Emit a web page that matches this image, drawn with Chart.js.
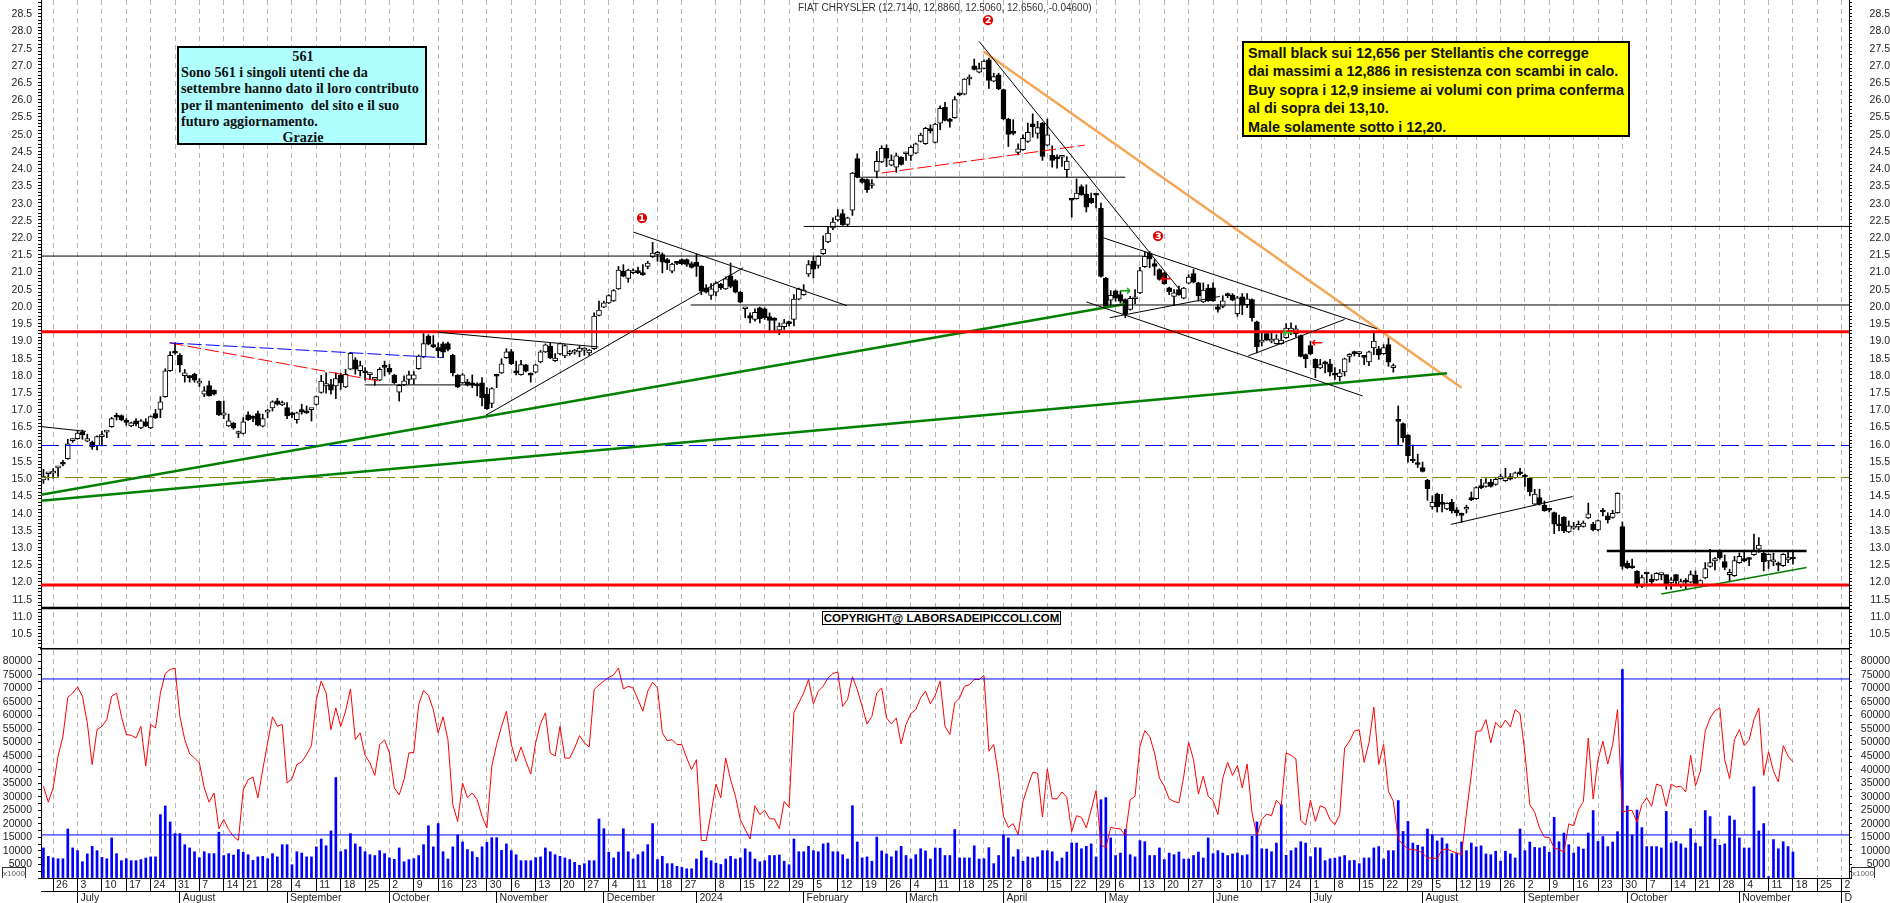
<!DOCTYPE html>
<html>
<head>
<meta charset="utf-8">
<title>FIAT CHRYSLER</title>
<script src="https://cdn.jsdelivr.net/npm/chart.js@4/dist/chart.umd.js"></script>
<style>
  html, body { margin: 0; padding: 0; background: #fff; width: 1890px; height: 903px; overflow: hidden; }
  canvas { position: absolute; left: 0; }
  #priceChart { top: 0; }
  #volumeChart { top: 650px; }
  .note { position: absolute; white-space: pre; }
  #title { left: 798px; top: 2px; font: 10px "Liberation Sans"; color: #333; }
  #infoBox { left: 177px; top: 46px; width: 244px; height: 95px; padding: 0 0 0 2px; border: 2px solid #000; background: #b0ffff; font: bold 14.2px/16.2px "Liberation Serif"; color: #111; }
  #infoBox div { text-align: center; }
  #commentBox { left: 1242px; top: 41px; width: 378px; height: 91px; padding: 1px 2px 0 4px; border: 2px solid #000; background: #ffff00; font: bold 14.4px/18.4px "Liberation Sans"; color: #111; }
  #copyBox { left: 822px; top: 611px; width: 237px; height: 12px; border: 1.5px solid #000; background: #fff; font: bold 11.5px/12px "Liberation Sans"; color: #000; text-align: center; }
  .unit { font: 8px/11px "Liberation Sans"; color: #666; border: 1px solid #333; border-bottom: 0; width: 22px; height: 10px; text-align: center; }
  .mark { font: bold 14px/14px "DejaVu Sans"; transform: translate(-50%, -50%); }
</style>
</head>
<body>
<canvas id="priceChart" width="1890" height="650"></canvas>
<canvas id="volumeChart" width="1890" height="253"></canvas>

<div class="note" id="title">FIAT CHRYSLER (12.7140, 12.8860, 12.5060, 12.6560, -0.04600)</div>
<div class="note" id="infoBox"><div>561</div>Sono 561 i singoli utenti che da
settembre hanno dato il loro contributo
per il mantenimento  del sito e il suo
futuro aggiornamento.
<div>Grazie</div></div>
<div class="note" id="commentBox">Small black sui 12,656 per Stellantis che corregge
dai massimi a 12,886 in resistenza con scambi in calo.
Buy sopra i 12,9 insieme ai volumi con prima conferma
al di sopra dei 13,10.
Male solamente sotto i 12,20.</div>
<div class="note" id="copyBox">COPYRIGHT@ LABORSADEIPICCOLI.COM</div>
<div class="note unit" style="left:2px;top:867px">x1000</div>
<div class="note unit" style="left:1851px;top:867px">x1000</div>
<div class="note mark" style="left:642px;top:218px;color:#e00000">❶</div>
<div class="note mark" style="left:988px;top:20px;color:#e00000">❷</div>
<div class="note mark" style="left:1158px;top:236px;color:#e00000">❸</div>
<div class="note mark" style="left:1125px;top:290px;color:#10a010">→</div>
<div class="note mark" style="left:1166px;top:278px;color:#ff0000">←</div>
<div class="note mark" style="left:1288px;top:332px;color:#30c030">←</div>
<div class="note mark" style="left:1317px;top:342px;color:#ff0000">←</div>

<script>
// one candle per trading day
const openValues = [
  14.95,15.13,15.15,15.30,15.47,15.57,16.09,16.15,16.35,16.08,
  16.04,15.94,16.21,16.34,16.50,16.83,16.82,16.65,16.52,16.67,
  16.46,16.64,16.46,16.88,17.00,17.37,18.12,18.69,18.57,17.98,
  17.96,18.02,17.76,17.44,17.69,17.55,17.23,16.83,16.52,16.60,
  16.30,16.30,16.84,16.77,16.88,16.51,16.92,17.04,17.25,17.13,
  17.05,16.90,16.70,16.99,16.94,16.99,17.14,17.49,17.68,17.72,
  17.68,17.99,17.65,18.17,18.44,18.12,18.09,18.01,17.87,17.85,
  18.24,18.20,17.99,17.50,17.71,17.87,17.88,18.18,18.53,19.13,
  18.85,18.79,18.90,18.91,18.57,17.99,17.77,17.80,17.77,17.71,
  17.77,17.44,17.17,17.98,18.06,18.50,18.68,18.08,18.01,18.29,
  18.02,18.08,18.38,18.67,18.84,18.41,18.61,18.55,18.62,18.66,
  18.68,18.72,18.64,18.76,19.73,19.97,20.09,20.15,20.50,21.01,
  20.80,20.97,20.98,20.94,21.15,21.43,21.50,21.49,21.35,21.01,
  21.25,21.35,21.35,21.23,21.27,21.15,20.53,20.31,20.40,20.64,
  20.50,20.88,20.74,20.40,19.92,19.72,19.61,19.95,19.92,19.69,
  19.64,19.30,19.40,19.50,19.61,20.20,20.33,20.93,21.30,21.18,
  21.52,21.86,22.27,22.50,22.68,22.37,22.78,24.28,23.69,23.67,
  23.50,23.91,24.18,24.58,24.09,24.03,24.32,24.42,24.37,24.44,
  24.78,24.71,25.10,24.75,25.31,25.77,25.43,25.47,26.15,26.15,
  26.59,26.97,26.79,26.90,27.15,26.53,26.71,26.28,25.43,25.02,
  24.46,24.54,24.78,25.29,25.01,25.31,24.67,24.38,24.32,24.32,
  23.96,23.09,23.12,23.47,23.25,23.13,23.24,22.84,20.81,20.17,
  20.44,20.33,20.19,19.90,20.21,20.38,21.14,21.54,21.23,21.06,
  20.96,20.53,20.28,20.48,20.23,20.66,20.94,20.67,20.12,20.52,
  20.53,19.98,19.99,20.31,20.32,19.78,20.27,20.04,20.19,19.54,
  18.95,19.20,18.98,18.91,18.91,19.08,19.27,19.20,19.14,18.59,
  18.85,18.45,18.20,18.38,18.32,18.00,17.95,18.09,18.54,18.63,
  18.62,18.52,18.38,18.78,18.76,18.62,18.88,18.21,16.66,16.59,
  16.25,15.53,15.42,15.31,14.94,14.17,14.54,14.25,14.11,14.30,
  14.08,13.93,14.10,14.44,14.41,14.79,14.76,14.89,14.82,14.99,
  14.93,15.05,15.02,15.16,15.05,15.00,14.25,14.44,14.22,14.10,
  14.00,13.66,13.87,13.44,13.55,13.59,13.60,13.85,13.66,13.50,
  14.03,13.91,13.86,14.00,13.60,12.53,12.46,12.30,11.86,12.23,
  12.07,12.05,12.20,12.20,11.96,12.20,11.88,12.04,11.98,12.19,
  11.90,12.11,12.44,12.60,12.89,12.58,12.20,12.17,12.55,12.67,
  12.67,12.78,12.94,12.82,12.60,12.57,12.50,12.46,12.63,12.714
];
const highValues = [
  15.26,15.15,15.28,15.33,15.52,16.13,16.15,16.40,16.40,16.28,
  16.08,16.23,16.37,16.38,16.77,16.89,16.84,16.73,16.63,16.73,
  16.70,16.73,16.81,17.00,17.37,18.18,18.68,18.93,18.62,18.16,
  17.98,18.05,17.89,17.66,17.82,17.57,17.25,17.24,16.86,16.62,
  16.37,16.76,16.93,16.81,16.95,16.86,17.00,17.25,17.32,17.24,
  17.20,16.92,16.92,17.15,17.10,17.02,17.39,17.99,18.06,17.87,
  18.06,18.05,18.16,18.65,18.50,18.40,18.21,18.06,17.93,18.21,
  18.40,18.30,18.02,17.72,17.97,18.11,18.10,18.58,19.20,19.17,
  19.14,18.93,18.95,18.95,18.60,18.01,18.04,17.87,18.00,17.77,
  17.92,17.63,17.63,18.02,18.47,18.76,18.74,18.40,18.42,18.31,
  18.06,18.31,18.71,18.90,18.93,18.62,18.93,18.88,18.72,18.74,
  18.84,18.79,18.74,19.80,20.14,20.14,20.33,20.48,21.15,21.20,
  21.07,21.08,21.13,21.20,21.30,21.85,21.59,21.54,21.38,21.25,
  21.27,21.37,21.37,21.28,21.51,21.17,20.62,20.65,20.70,20.66,
  20.85,21.25,20.77,20.42,19.94,19.80,19.92,19.97,19.95,19.80,
  19.66,19.51,19.61,19.56,20.33,20.52,20.62,21.32,21.44,21.46,
  22.04,22.31,22.56,22.80,22.80,22.58,23.88,24.42,23.71,23.69,
  23.67,24.49,24.65,24.68,24.39,24.44,24.34,24.46,24.65,24.73,
  25.02,25.19,25.26,25.31,25.81,25.91,25.45,26.08,26.17,26.60,
  26.71,27.17,27.05,27.15,27.20,26.76,26.76,26.30,25.45,25.41,
  24.71,24.97,25.31,25.58,25.36,25.33,25.43,24.65,24.39,24.34,
  24.34,23.13,23.69,23.52,23.52,23.28,23.26,22.99,20.83,20.45,
  20.46,20.43,20.21,20.28,20.48,21.12,21.56,21.58,21.35,21.08,
  20.98,20.55,20.48,20.58,20.54,20.91,21.06,20.69,20.67,20.62,
  20.67,20.04,20.30,20.38,20.36,20.28,20.36,20.36,20.21,19.56,
  19.27,19.22,19.22,19.17,19.22,19.49,19.51,19.43,19.16,18.61,
  18.98,18.47,18.45,18.40,18.45,18.21,18.16,18.49,18.62,18.69,
  18.67,18.55,18.69,19.27,18.83,18.88,19.08,18.32,17.10,16.61,
  16.27,15.96,15.70,15.47,14.97,14.49,14.57,14.53,14.29,14.39,
  14.15,13.99,14.22,14.60,14.75,14.97,14.99,14.97,15.02,15.12,
  15.29,15.14,15.18,15.29,15.12,15.02,14.68,14.68,14.34,14.12,
  14.02,13.93,13.89,13.76,13.72,13.76,13.76,14.28,13.72,13.79,
  14.13,14.00,14.07,14.58,13.73,12.60,12.65,12.32,12.19,12.25,
  12.20,12.26,12.21,12.20,12.12,12.20,12.07,12.09,12.31,12.31,
  12.05,12.55,12.94,12.70,12.92,12.77,12.36,12.73,12.83,12.85,
  12.70,13.38,13.28,12.85,12.81,12.83,12.57,12.81,12.86,12.886
];
const lowValues = [
  14.85,14.95,15.00,15.05,15.36,15.55,16.04,16.13,16.13,16.06,
  15.84,15.82,15.94,16.18,16.48,16.69,16.67,16.54,16.50,16.52,
  16.44,16.50,16.44,16.73,16.76,17.35,18.10,18.60,18.08,17.79,
  17.79,17.79,17.66,17.37,17.38,17.42,16.82,16.73,16.50,16.42,
  16.18,16.28,16.68,16.64,16.52,16.49,16.76,16.95,17.12,17.11,
  16.73,16.76,16.60,16.86,16.88,16.66,17.12,17.47,17.47,17.44,
  17.31,17.58,17.63,18.15,18.02,17.97,17.85,17.87,17.70,17.83,
  17.97,18.02,17.75,17.24,17.69,17.73,17.73,18.16,18.50,18.87,
  18.79,18.50,18.50,18.70,17.97,17.63,17.75,17.68,17.63,17.39,
  17.10,17.00,17.05,17.63,18.04,18.48,18.30,18.00,17.99,18.09,
  17.79,18.06,18.35,18.65,18.47,18.39,18.59,18.50,18.57,18.60,
  18.53,18.57,18.57,18.74,19.71,19.95,20.07,20.13,20.48,20.85,
  20.69,20.94,20.94,20.89,21.08,21.41,21.30,20.96,21.06,20.96,
  21.20,21.20,21.15,21.10,20.86,20.33,20.38,20.19,20.29,20.48,
  20.48,20.53,20.38,20.09,19.66,19.51,19.56,19.51,19.61,19.27,
  19.27,19.17,19.32,19.42,19.42,20.18,20.31,20.86,20.81,21.10,
  21.50,21.84,22.22,22.46,22.34,22.30,22.63,23.72,23.57,23.30,
  23.42,23.72,24.16,24.05,24.07,23.88,24.09,24.23,24.23,24.42,
  24.76,24.69,25.02,24.73,25.12,25.37,25.19,25.45,26.10,26.13,
  26.42,26.85,26.77,26.88,26.32,26.51,26.28,25.41,24.63,24.97,
  24.39,24.52,24.75,24.90,24.87,24.23,24.65,24.03,24.00,24.05,
  23.74,22.58,23.10,23.21,22.73,22.98,22.85,20.84,19.97,20.01,
  20.14,20.09,19.66,19.88,20.07,20.36,21.12,21.11,20.89,20.75,
  20.63,20.33,20.01,20.31,20.21,20.64,20.67,20.14,20.10,20.13,
  20.13,19.82,19.95,20.24,20.15,19.70,19.75,19.95,19.56,18.64,
  18.84,19.00,18.93,18.89,18.89,19.06,19.17,19.10,18.52,18.21,
  18.59,17.92,18.18,18.06,17.97,17.87,17.82,17.97,18.37,18.55,
  18.53,18.30,18.27,18.59,18.45,18.60,18.25,18.08,15.96,16.05,
  15.47,15.45,15.31,15.18,14.36,14.10,14.02,14.02,14.09,13.99,
  13.91,13.72,13.99,14.35,14.39,14.70,14.74,14.74,14.80,14.97,
  14.91,14.95,15.00,15.10,14.76,14.49,14.23,14.22,14.04,14.02,
  13.39,13.47,13.42,13.42,13.52,13.50,13.58,13.83,13.47,13.47,
  13.91,13.70,13.84,13.98,12.36,12.38,12.38,11.83,11.83,11.95,
  11.93,12.03,12.05,11.78,11.78,11.90,11.83,11.78,11.96,11.88,
  11.88,12.09,12.42,12.34,12.65,12.34,11.99,12.15,12.53,12.58,
  12.46,12.76,12.85,12.31,12.38,12.46,12.31,12.44,12.55,12.506
];
const closeValues = [
  15.05,15.15,15.18,15.33,15.41,16.00,16.10,16.31,16.26,16.15,
  15.91,16.21,16.27,16.36,16.73,16.77,16.70,16.62,16.61,16.58,
  16.67,16.51,16.79,16.75,17.22,18.12,18.57,18.63,18.29,18.06,
  17.92,17.85,17.80,17.54,17.39,17.44,16.84,16.90,16.67,16.46,
  16.35,16.64,16.70,16.74,16.54,16.73,16.93,17.22,17.15,17.20,
  16.81,16.84,16.90,16.92,16.90,17.00,17.37,17.82,17.75,17.56,
  17.89,17.77,18.02,18.63,18.17,18.27,18.06,18.02,17.88,18.16,
  18.22,18.08,17.77,17.70,17.83,18.00,18.00,18.55,18.91,18.89,
  18.82,18.70,18.66,18.74,18.06,17.65,18.00,17.71,17.70,17.68,
  17.34,17.02,17.60,17.96,18.32,18.67,18.32,18.06,18.30,18.11,
  17.99,18.29,18.67,18.87,18.49,18.49,18.91,18.85,18.63,18.67,
  18.78,18.74,18.72,19.71,19.88,20.09,20.30,20.45,21.04,20.87,
  21.04,20.98,20.97,20.91,21.25,21.54,21.51,21.27,21.25,21.22,
  21.24,21.22,21.21,21.12,21.15,20.43,20.40,20.50,20.67,20.53,
  20.79,20.57,20.40,20.11,19.93,19.65,19.82,19.63,19.66,19.58,
  19.58,19.42,19.51,19.49,20.20,20.50,20.47,21.20,21.07,21.44,
  21.65,22.12,22.44,22.62,22.36,22.56,23.86,23.74,23.59,23.38,
  23.51,24.20,24.58,24.29,24.24,24.36,24.11,24.43,24.61,24.71,
  24.96,25.16,25.09,25.28,25.74,25.39,25.36,25.99,26.13,26.59,
  26.63,26.87,26.89,27.11,26.55,26.66,26.30,25.43,24.98,25.01,
  24.56,24.87,25.04,25.21,25.18,24.34,24.97,24.23,24.27,24.33,
  24.21,23.07,23.28,23.23,22.87,23.00,23.22,20.86,19.99,20.31,
  20.23,20.14,19.78,20.22,20.27,21.03,21.44,21.37,21.15,20.77,
  20.65,20.42,20.38,20.33,20.52,20.84,20.69,20.30,20.46,20.15,
  20.15,19.90,20.15,20.30,20.17,20.24,20.03,20.21,19.66,18.82,
  18.96,19.01,18.98,19.05,19.01,19.36,19.36,19.34,18.54,18.47,
  18.61,18.20,18.30,18.32,18.08,17.99,18.06,18.47,18.55,18.62,
  18.63,18.51,18.67,18.98,18.58,18.79,18.37,18.27,16.65,16.18,
  15.65,15.50,15.40,15.20,14.70,14.30,14.17,14.24,14.27,14.05,
  13.99,13.92,14.11,14.37,14.73,14.72,14.87,14.76,14.97,15.00,
  15.02,14.97,15.16,15.13,15.03,14.60,14.54,14.25,14.06,14.07,
  13.67,13.62,13.47,13.62,13.60,13.66,13.70,13.97,13.50,13.77,
  14.02,13.79,13.98,14.56,12.44,12.40,12.40,11.93,12.12,12.22,
  11.99,12.24,12.20,11.90,12.05,12.02,12.00,11.98,12.20,11.90,
  12.03,12.38,12.55,12.67,12.69,12.41,12.27,12.61,12.73,12.60,
  12.64,12.90,13.06,12.58,12.79,12.58,12.48,12.79,12.70,12.656
];
const volumeValues = [
  11100,8000,7400,7100,7100,18100,11100,10100,6000,8900,
  11700,10100,7600,7100,14800,9000,6400,7100,6400,6400,
  6800,7400,7800,7800,23400,26600,20700,16400,16400,12300,
  11100,9700,7500,9700,9000,9000,16900,8300,9000,8500,
  10500,9500,8600,6500,7800,8000,7100,9000,7800,12300,
  12300,4900,9700,9200,7800,7800,11500,14400,11900,17400,
  37100,9700,10500,16400,12600,11500,9700,8600,8300,10100,
  9000,7400,6900,11100,6000,6800,7100,8300,12300,19300,
  11500,20100,9700,7000,11500,15900,13300,10500,9700,7600,
  11500,13200,14900,14900,10200,12600,10100,8600,6400,6400,
  6400,7500,7800,11100,9700,8600,8000,7400,6800,5800,
  4700,5300,6400,6400,21800,18200,9500,7400,9600,18200,
  9700,7000,8600,9700,12300,20100,6800,8000,5300,5300,
  4300,3900,3400,3400,7000,10000,7400,6400,5500,5000,
  7000,8000,7000,7400,10800,9600,7000,6000,6400,8300,
  8300,8500,6200,4900,14400,9700,9700,11700,10100,9700,
  12600,12900,9700,9700,8600,7000,26700,13300,7400,7800,
  6200,15100,10000,8900,7800,10000,11700,8300,7000,8600,
  10800,10000,7000,11100,11000,8300,8300,17900,7400,7400,
  7400,11900,7000,7100,11200,5300,8300,15900,14800,7800,
  10500,6200,7800,7400,7800,10100,10100,9700,6200,7400,
  9600,12900,12900,10800,11700,12600,7800,28900,29700,14800,
  8300,9200,17900,8600,7800,13800,13400,8300,8300,11100,
  6800,9200,8600,9600,7000,7000,8300,9600,7400,14800,
  9000,10100,9200,8300,8900,9200,8300,8600,15400,20700,
  10800,10700,9700,12900,27100,8400,10100,11100,13400,12900,
  7900,11200,11100,6400,7100,7300,7800,8300,6400,6500,
  5300,7400,7400,11100,11600,7000,10100,10100,28600,17200,
  20900,12900,12100,11500,18100,15900,13700,14800,12600,9000,
  9200,13300,10100,12900,11500,11900,8900,8600,9900,6200,
  9900,8900,7400,18100,10100,13300,11300,11100,11600,9500,
  22400,13400,16600,12300,9200,11500,10700,16600,24900,13500,
  15300,11600,13300,17100,77000,26600,15900,25100,18600,11600,
  11600,11600,11100,24600,12900,13500,12600,11100,18200,12900,
  11600,24900,22700,14400,12100,12600,22900,21400,14800,11100,
  11100,33700,17400,20100,500,14200,10800,13400,11600,9600
];
// red line drawn over the volume bars
const volumeLineValues = [
  33900,28000,33300,45000,52300,66700,68300,70600,67100,57300,
  41900,54800,56000,58500,67100,68300,59700,53000,52700,51700,
  56000,41300,56700,55400,68300,75500,77000,77500,59700,51100,
  45900,44300,42500,33300,28000,31400,18200,21600,17900,15400,
  13900,32600,36300,37300,29600,40000,49900,59500,56000,56700,
  35100,36600,41900,42900,45600,48900,65900,72700,68300,54800,
  62800,56000,61600,69800,51100,53600,45300,42500,37900,49300,
  51000,46200,33300,30700,36300,46200,46400,64000,69300,67500,
  62200,53600,59500,51100,27100,20900,35100,29600,31400,28900,
  22800,18500,41300,49300,56000,61600,49300,43100,48400,43100,
  38400,49900,57000,61000,46200,45000,56000,44300,44300,48000,
  52600,49900,48400,69600,71300,72700,74100,75000,77600,69800,
  70800,70200,65900,61600,69000,72300,70200,53600,50700,51100,
  49300,49300,44300,40000,43700,13900,13800,24000,34700,29600,
  44300,36300,30200,21600,17900,14400,26700,23400,25000,21900,
  21800,18200,28300,26100,61200,64700,68300,73300,64300,69000,
  70800,73900,75500,76100,63400,65900,74300,69600,63400,56900,
  59700,68300,70200,59100,56900,59100,49500,56700,60700,62200,
  66500,69000,64300,67500,72700,56000,53000,64700,66500,70800,
  71400,73300,73300,74800,46800,49300,37600,22800,18700,20100,
  16000,28300,33900,39000,38700,22500,40300,29300,29200,31800,
  29800,17200,23000,22400,18500,25200,32300,12300,11100,18700,
  18300,18100,15600,28900,30200,48600,54400,52300,46200,36900,
  33900,29200,28300,27700,37600,50100,43700,31000,37600,30200,
  28600,23400,36900,42700,37900,41500,33300,42100,24000,15600,
  21600,23600,23000,28700,26700,46200,45300,44000,21300,19500,
  28700,20900,26700,25900,21600,19700,23400,48000,50500,54200,
  54800,42700,49900,63100,41900,49300,32000,28300,14400,12300,
  10700,10500,10200,9200,7400,7400,7100,10500,10700,9900,
  9200,8600,24000,38200,54200,54300,58500,49900,57500,55400,
  58300,55800,62200,60700,46200,27100,24300,18500,15100,15000,
  11100,10500,9500,20000,19300,25200,28300,51700,29200,43700,
  50500,42100,49300,62200,24300,24900,24900,20600,27100,29600,
  26500,34700,33900,26500,34700,33600,33900,31800,45300,34100,
  39400,54200,59100,61800,62800,43700,36700,51100,54800,48900,
  50900,58500,62800,37900,46600,39400,35500,48900,45000,42900
];

// week ticks: position in the trading day sequence, then the day printed there
const weekTickIndex = [
  2,7,12,17,22,27,32,37,41,46,51,56,61,66,71,76,81,86,91,96,101,106,111,116,121,126,131,138,143,148,153,
  158,163,168,173,178,183,188,193,197,201,206,211,216,220,225,230,235,240,245,250,255,260,265,270,275,
  280,285,290,294,299,304,309,314,319,324,329,334,339,344,349,354,359,364,369
];
const weekTickLabels = [
  '26','3','10','17','24','31','7','14','21','28','4','11','18','25','2','9','16','23','30','6','13','20','27','4','11','18','27','8','15','22','29',
  '5','12','19','26','4','11','18','25','2','8','15','22','29','6','13','20','27','3','10','17','24','1','8','15','22',
  '29','5','12','19','26','2','9','16','23','30','7','14','21','28','4','11','18','25','2'
];
const monthTickIndex = [7,28,50,71,93,115,134,156,177,197,218,240,260,283,304,325,348,369];
const monthTickLabels = ['July','August','September','October','November','December','2024','February','March','April','May','June','July','August','September','October','November','D'];

// lines drawn on the price panel, each one: first day, first value, last day, last value
const blackThinLines = [
  [-0.5,16.50,8.7,16.36],
  [-0.5,21.45,225.7,21.45],
  [132.8,20.03,370.5,20.03],
  [156,22.31,370.5,22.31],
  [166.8,23.74,222,23.74],
  [65.9,17.71,90.3,17.71],
  [80.9,19.24,113.9,18.81],
  [90.8,16.83,143.6,21.11],
  [121,22.15,164.9,20.01],
  [192,27.68,233,20.50],
  [217.5,21.98,273.6,19.34],
  [214,20.12,270.7,17.39],
  [218.8,19.66,241.4,20.28],
  [247.2,18.55,267,19.61],
  [288.8,13.66,313.8,14.47]
];
const blackHeavyLines = [
  [320.8,12.89,361.8,12.89],
  [-0.5,11.23,370.5,11.23]
];
const redHeavyLines = [
  [-0.5,19.25,370.5,19.25],
  [-0.5,11.90,370.5,11.90]
];
const greenHeavyLines = [
  [-0.5,14.52,222,20.06],
  [-0.5,14.35,288,18.05]
];
const greenThinLines = [[332,11.64,361.8,12.41]];
const orangeLines = [[192.9,27.39,291,17.63]];
const blueDashLines = [[-0.5,15.95,370.5,15.95]];
const oliveDashLines = [[-0.5,15.02,370.5,15.02]];
const blueShortDashLines = [[25.9,18.93,81.9,18.50]];
const redShortDashLines = [[25.9,18.93,68.9,17.82],[172,23.86,213.7,24.67]];
const volumeLevels = [73500,15900];

const priceMin = 10.043;
const priceMax = 28.884;
const volumeMax = 84200;
const dayMin = -0.5;
const dayMax = 370.5;

const axisFont = { family: 'Liberation Sans', size: 10.5 };
const inkColor = '#222';

function lineSets(lines, style) {
  return lines.map((l) => Object.assign({
    type: 'line',
    data: [{ x: l[0], y: l[1] }, { x: l[2], y: l[3] }],
    pointRadius: 0,
    order: 1
  }, style));
}

const days = openValues.map((v, i) => i);

function priceDatasets() {
  var sets = [
    {
      type: 'bar',
      data: days.map((i) => ({ x: i, y: [lowValues[i], highValues[i]] })),
      backgroundColor: '#000',
      barThickness: 1,
      grouped: false,
      order: 3
    },
    {
      type: 'bar',
      data: days.map((i) => ({ x: i, y: [Math.min(openValues[i], closeValues[i]), Math.max(openValues[i], closeValues[i])] })),
      backgroundColor: days.map((i) => closeValues[i] >= openValues[i] ? '#fff' : '#000'),
      borderColor: '#000',
      borderWidth: 1,
      borderSkipped: false,
      barThickness: 5,
      minBarLength: 2,
      grouped: false,
      order: 2
    }
  ];
  sets = sets.concat(lineSets(blackThinLines, { borderColor: '#000', borderWidth: 1 }));
  sets = sets.concat(lineSets(blackHeavyLines, { borderColor: '#000', borderWidth: 2.5 }));
  sets = sets.concat(lineSets(redHeavyLines, { borderColor: '#ff0000', borderWidth: 3 }));
  sets = sets.concat(lineSets(greenHeavyLines, { borderColor: '#008000', borderWidth: 2.5 }));
  sets = sets.concat(lineSets(greenThinLines, { borderColor: '#008000', borderWidth: 1.5 }));
  sets = sets.concat(lineSets(orangeLines, { borderColor: '#f4a556', borderWidth: 2.5 }));
  sets = sets.concat(lineSets(blueDashLines, { borderColor: '#0000ff', borderWidth: 1, borderDash: [18, 6] }));
  sets = sets.concat(lineSets(oliveDashLines, { borderColor: '#808000', borderWidth: 1, borderDash: [18, 6] }));
  sets = sets.concat(lineSets(blueShortDashLines, { borderColor: '#0000ff', borderWidth: 1, borderDash: [14, 4] }));
  sets = sets.concat(lineSets(redShortDashLines, { borderColor: '#ff0000', borderWidth: 1, borderDash: [14, 4] }));
  return sets;
}

function volumeDatasets() {
  var sets = [
    {
      type: 'bar',
      data: days.map((i) => ({ x: i, y: volumeValues[i] })),
      backgroundColor: '#0000ff',
      barThickness: 2,
      grouped: false,
      order: 3
    },
    {
      type: 'line',
      data: days.map((i) => ({ x: i, y: volumeLineValues[i] })),
      borderColor: '#ff0000',
      borderWidth: 1,
      pointRadius: 0,
      tension: 0,
      order: 2
    }
  ];
  volumeLevels.forEach((v) => {
    sets = sets.concat(lineSets([[dayMin, v, dayMax, v]], { borderColor: '#0000ff', borderWidth: 1 }));
  });
  return sets;
}

// chart.js adds the tick padding to the plot margins, take that back out
function fixMargins(s) {
  s.paddingTop = 0;
  s.paddingBottom = 0;
  s.paddingLeft = 0;
  s.paddingRight = 0;
}

function sideAxis(position, min, max, step, padding, labelOffset, labelEvery) {
  return {
    position: position,
    min: min,
    max: max,
    bounds: 'data',
    afterBuildTicks: (s) => {
      const ticks = [];
      for (var k = Math.ceil(min / step); k * step <= max; k++) {
        ticks.push({ value: Math.round(k * step * 10) / 10 });
      }
      s.ticks = ticks;
    },
    afterFit: (s) => { s.width = 41; fixMargins(s); },
    grid: { drawOnChartArea: false, color: '#000', tickColor: '#000', tickLength: 3 },
    border: { color: '#000', width: 1 },
    ticks: {
      includeBounds: false,
      autoSkip: false,
      crossAlign: position === 'left' ? 'near' : 'far',
      padding: padding,
      labelOffset: labelOffset,
      font: axisFont,
      color: inkColor,
      callback: labelEvery
    }
  };
}

function dayAxis(tickIndex, tickLabels, height, weight, showGrid) {
  return {
    type: 'linear',
    position: 'bottom',
    min: dayMin,
    max: dayMax,
    bounds: 'data',
    offset: false,
    weight: weight,
    afterBuildTicks: (s) => { s.ticks = tickIndex.map((v) => ({ value: v })); },
    afterFit: (s) => { s.height = height; fixMargins(s); },
    grid: {
      display: true,
      offset: false,
      drawOnChartArea: showGrid,
      color: '#b4b4b4',
      tickColor: '#000',
      tickLength: height,
      tickBorderDash: []
    },
    border: { color: '#000', width: 1, dash: showGrid ? [5, 4] : [] },
    ticks: {
      autoSkip: false,
      includeBounds: false,
      maxRotation: 0,
      minRotation: 0,
      align: 'start',
      padding: -height + 1,
      font: axisFont,
      color: inkColor,
      callback: (v) => ' ' + tickLabels[tickIndex.indexOf(v)]
    }
  };
}

const priceLabel = (v) => Math.round(v * 10) % 5 === 0 ? v.toFixed(1) : '';
const volumeLabel = (v) => v % 5000 === 0 && v > 0 ? String(v) : '';

const baseOptions = {
  responsive: false,
  animation: false,
  devicePixelRatio: 1,
  layout: { padding: 0, autoPadding: false },
  plugins: { legend: { display: false }, tooltip: { enabled: false } }
};

new Chart(document.getElementById('priceChart'), {
  data: { datasets: priceDatasets() },
  options: Object.assign({}, baseOptions, {
    scales: {
      x: {
        type: 'linear',
        position: 'bottom',
        min: dayMin,
        max: dayMax,
        bounds: 'data',
        offset: false,
        afterBuildTicks: (s) => { s.ticks = weekTickIndex.map((v) => ({ value: v })); },
        afterFit: (s) => { s.height = 1; fixMargins(s); },
        grid: { display: true, offset: false, drawOnChartArea: true, color: '#b4b4b4', drawTicks: false },
        border: { color: '#000', width: 1.5, dash: [5, 4] },
        ticks: { display: false, autoSkip: false, includeBounds: false, maxRotation: 0 }
      },
      y: sideAxis('left', priceMin, priceMax, 0.1, 6, 1, priceLabel),
      yRight: sideAxis('right', priceMin, priceMax, 0.1, 15, 1, priceLabel)
    }
  })
});

new Chart(document.getElementById('volumeChart'), {
  data: { datasets: volumeDatasets() },
  options: Object.assign({}, baseOptions, {
    scales: {
      x: dayAxis(weekTickIndex, weekTickLabels, 13, 0, true),
      xMonth: dayAxis(monthTickIndex, monthTickLabels, 12, 1, false),
      y: sideAxis('left', 0, volumeMax, 2500, 6, 0, volumeLabel),
      yRight: sideAxis('right', 0, volumeMax, 2500, 6, 0, volumeLabel)
    }
  })
});
</script>
</body>
</html>
